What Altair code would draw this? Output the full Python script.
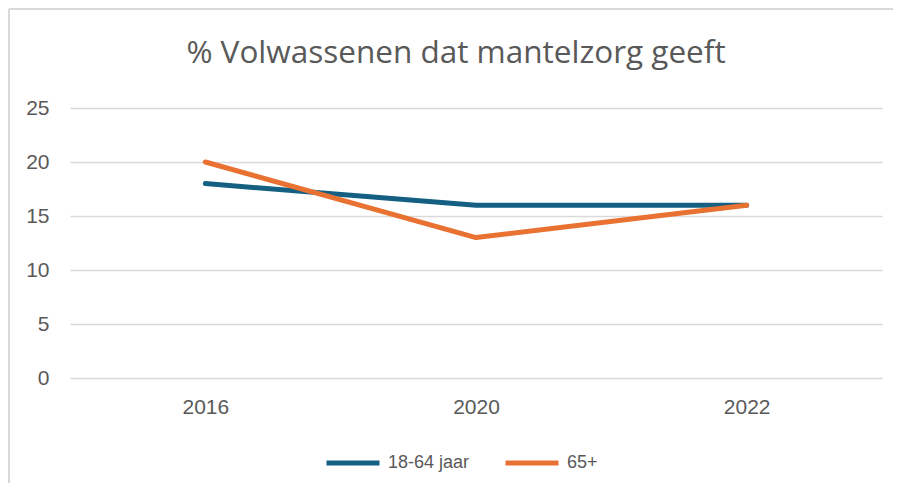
import altair as alt
import pandas as pd

years = ["2016", "2020", "2022"]
series_names = ["18-64 jaar", "65+"]
values_18_64 = [18, 16, 16]
values_65 = [20, 13, 16]
colors = ["#156082", "#E97132"]
title_text = "% Volwassenen dat mantelzorg geeft"

rows = []
for name, vals in zip(series_names, [values_18_64, values_65]):
    for y, v in zip(years, vals):
        rows.append({"jaar": y, "groep": name, "pct": v})
df = pd.DataFrame(rows)

AXFONT = "Liberation Sans"
TFONT = "Open Sans"
GREY = "#595959"

lines = alt.Chart(df).mark_line(strokeWidth=5, strokeCap="round", strokeJoin="round").encode(
    x=alt.X("jaar:O", sort=years, title=None,
            scale=alt.Scale(type="point", padding=0.5),
            axis=alt.Axis(labelAngle=0, ticks=False, domain=False, labelPadding=18,
                          labelFontSize=21, labelColor=GREY, labelFont=AXFONT, grid=False)),
    y=alt.Y("pct:Q", title=None,
            scale=alt.Scale(domain=[0, 25], nice=False),
            axis=alt.Axis(values=[0, 5, 10, 15, 20, 25], ticks=False, domain=False,
                          labelPadding=21, labelFontSize=21, labelColor=GREY, labelFont=AXFONT,
                          gridColor="#d9d9d9", gridWidth=1.5)),
    color=alt.Color("groep:N", sort=series_names,
                    scale=alt.Scale(domain=series_names, range=colors),
                    legend=alt.Legend(title=None, orient="none", direction="horizontal",
                                      legendX=254, legendY=326,
                                      symbolType="stroke", symbolSize=2809, symbolStrokeWidth=5,
                                      labelFontSize=18, labelColor=GREY, labelFont=AXFONT,
                                      columnPadding=25, labelOffset=6)),
)

title_df = pd.DataFrame({"t": [title_text]})
title = alt.Chart(title_df).mark_text(fontSize=31.5, font=TFONT, color=GREY, align="center",
                                      baseline="alphabetic").encode(
    text="t:N", x=alt.value(386), y=alt.value(-45))

border_df = pd.DataFrame({"a": [0]})
left_border = alt.Chart(border_df).mark_rule(color="#d9d9d9", strokeWidth=2).encode(
    x=alt.value(-61), y=alt.value(-99), y2=alt.value(400))
top_border = alt.Chart(border_df).mark_rule(color="#d9d9d9", strokeWidth=2).encode(
    x=alt.value(-61), x2=alt.value(830), y=alt.value(-99))

chart = alt.layer(left_border, top_border, title, lines).properties(
    width=812, height=270,
    autosize=alt.AutoSizeParams(type="none"),
    padding={"left": 62, "top": 100, "right": 11, "bottom": 105},
).configure(background="white").configure_view(stroke=None)

chart.save("out.html", embed_options={"renderer": "svg", "actions": False})
